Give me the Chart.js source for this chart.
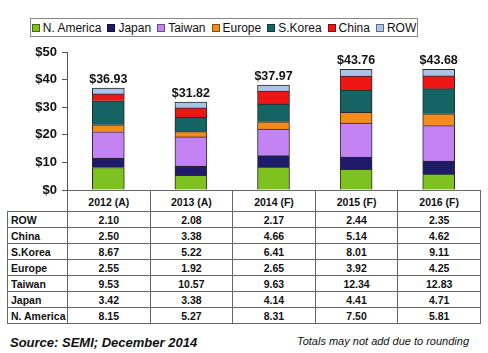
<!DOCTYPE html>
<html>
<head>
<meta charset="utf-8">
<script src="https://cdn.jsdelivr.net/npm/chart.js@4/dist/chart.umd.min.js"></script>
<style>
    html, body { margin: 0; padding: 0; background: #fff; }
    #wrap { position: relative; width: 488px; height: 353px; overflow: hidden; font-family: 'Liberation Sans', Arial, sans-serif; color: #111; }
    #legend { position: absolute; left: 30px; top: 18px; width: 386px; height: 17px; border: 1px solid #888; display: flex; align-items: center; justify-content: center; font-size: 12px; white-space: nowrap; }
    #legend span.item { display: inline-flex; align-items: center; margin-right: 6px; }
    #legend span.item:last-child { margin-right: 0; }
    #legend i { display: inline-block; width: 6px; height: 6px; margin-right: 3px; border: 1px solid rgba(0,0,0,0.45); }
    #chart { position: absolute; left: 0; top: 0; z-index: 2; }
    #tbl { position: absolute; left: 7px; top: 190px; border-collapse: collapse; table-layout: fixed; font-size: 10.5px; font-weight: bold; z-index: 1; }
    #tbl td { border: 1px solid #666; padding: 0; height: 15px; text-align: center; line-height: 10px; }
    #tbl td.name { text-align: left; padding-left: 3px; }
    #tbl tr.head td { height: 18px; padding-top: 2px; }
    #tbl tr.head td.blank { border: none; }
    .note { position: absolute; }
    #source { left: 10px; top: 335px; font-size: 13px; font-weight: bold; font-style: italic; }
    #totals { right: 19px; top: 335px; font-size: 11px; font-style: italic; }
</style>
</head>
<body>
<div id="wrap">
    <div id="legend"></div>
    <canvas id="chart" width="488" height="212"></canvas>
    <table id="tbl"></table>
    <div class="note" id="source">Source: SEMI; December 2014</div>
    <div class="note" id="totals">Totals may not add due to rounding</div>
</div>
<script>
var years = ['2012 (A)', '2013 (A)', '2014 (F)', '2015 (F)', '2016 (F)'];
var nAmerica = [8.15, 5.27, 8.31, 7.50, 5.81];
var japan = [3.42, 3.38, 4.14, 4.41, 4.71];
var taiwan = [9.53, 10.57, 9.63, 12.34, 12.83];
var europe = [2.55, 1.92, 2.65, 3.92, 4.25];
var sKorea = [8.67, 5.22, 6.41, 8.01, 9.11];
var china = [2.50, 3.38, 4.66, 5.14, 4.62];
var rowRegion = [2.10, 2.08, 2.17, 2.44, 2.35];
var totals = [36.93, 31.82, 37.97, 43.76, 43.68];
var yTicks = [0, 5, 10, 15, 20, 25, 30, 35, 40, 45, 50];

var series = [
    { label: 'N. America', data: nAmerica, color: '#7dc21e' },
    { label: 'Japan', data: japan, color: '#1e1b6b' },
    { label: 'Taiwan', data: taiwan, color: '#c383f3' },
    { label: 'Europe', data: europe, color: '#f28c1e' },
    { label: 'S.Korea', data: sKorea, color: '#156463' },
    { label: 'China', data: china, color: '#ee1515' },
    { label: 'ROW', data: rowRegion, color: '#a9c4e8' }
];

var FONT = "'Liberation Sans', Arial, sans-serif";

// Legend
var legendEl = document.getElementById('legend');
series.forEach(function (s) {
    var item = document.createElement('span');
    item.className = 'item';
    item.innerHTML = '<i style="background:' + s.color + '"></i>' + s.label;
    legendEl.appendChild(item);
});

// Table (rows listed top-down, reversed from stack order)
var tbl = document.getElementById('tbl');
var colgroup = '<colgroup><col style="width:60px">';
years.forEach(function () { colgroup += '<col style="width:82.6px">'; });
colgroup += '</colgroup>';
var html = colgroup + '<tr class="head"><td class="blank"></td>';
years.forEach(function (y) { html += '<td>' + y + '</td>'; });
html += '</tr>';
series.slice().reverse().forEach(function (s) {
    html += '<tr><td class="name">' + s.label + '</td>';
    s.data.forEach(function (v) { html += '<td>' + v.toFixed(2) + '</td>'; });
    html += '</tr>';
});
tbl.innerHTML = html;

// Totals above each stack
var totalLabels = {
    id: 'totalLabels',
    afterDatasetsDraw: function (chart) {
        var ctx = chart.ctx;
        var meta = chart.getDatasetMeta(chart.data.datasets.length - 1);
        ctx.save();
        ctx.font = 'bold 12.5px ' + FONT;
        ctx.fillStyle = '#111';
        ctx.textAlign = 'center';
        ctx.textBaseline = 'alphabetic';
        meta.data.forEach(function (bar, i) {
            ctx.fillText('$' + totals[i].toFixed(2), bar.x, bar.y - 5);
        });
        ctx.restore();
    }
};

new Chart(document.getElementById('chart').getContext('2d'), {
    type: 'bar',
    data: {
        labels: years,
        datasets: series.map(function (s) {
            return {
                label: s.label,
                data: s.data,
                backgroundColor: s.color,
                borderColor: '#2a2a2a',
                borderWidth: 1,
                barThickness: 32
            };
        })
    },
    options: {
        responsive: false,
        animation: false,
        layout: { padding: { top: 52, right: 8, bottom: 22, left: 0 } },
        plugins: {
            legend: { display: false },
            tooltip: { enabled: false }
        },
        scales: {
            x: { stacked: true, display: false },
            y: {
                stacked: true,
                min: 0,
                max: 50,
                afterFit: function (s) { s.width = 67; },
                afterBuildTicks: function (s) {
                    s.ticks = yTicks.map(function (v) { return { value: v }; });
                },
                border: { display: true, color: '#555', width: 1 },
                grid: { drawOnChartArea: false, drawTicks: true, tickLength: 5, color: '#555' },
                ticks: {
                    padding: 5,
                    color: '#111',
                    font: { family: FONT, size: 13, weight: 'bold' },
                    callback: function (v) { return '$' + v; }
                }
            }
        }
    },
    plugins: [totalLabels]
});
</script>
</body>
</html>
